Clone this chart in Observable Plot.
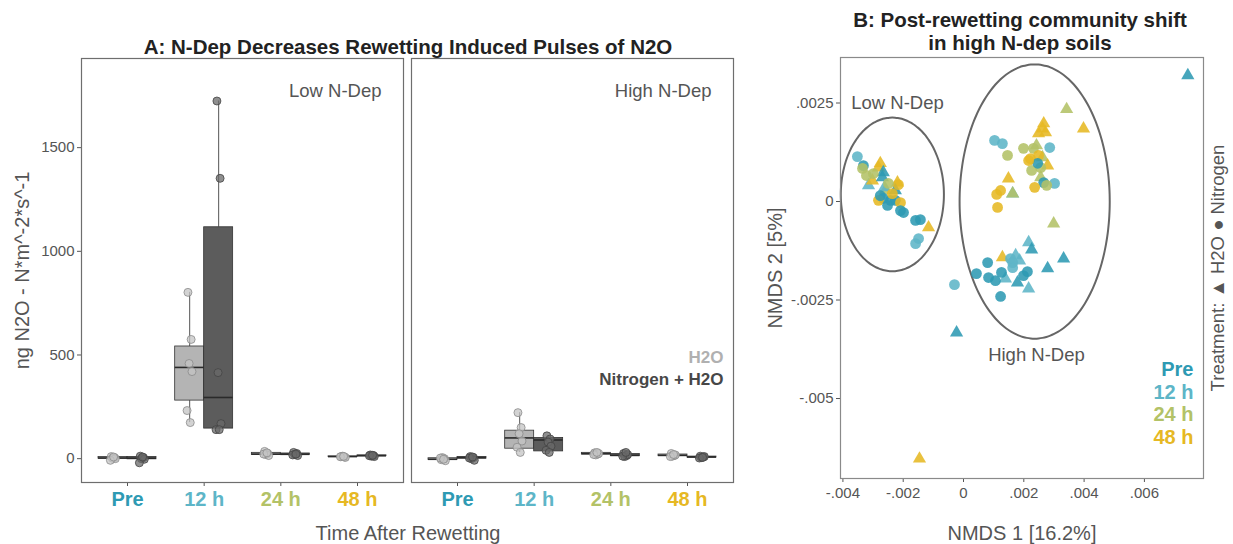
<!DOCTYPE html>
<html><head><meta charset="utf-8">
<script src="https://cdn.jsdelivr.net/npm/d3@7"></script>
<script src="https://cdn.jsdelivr.net/npm/@observablehq/plot@0.6"></script>
<style>
body{margin:0;background:#fff;font-family:"Liberation Sans",Arial,sans-serif;}
#wrap{position:relative;width:1233px;height:544px;overflow:hidden;background:#fff;}
.abs{position:absolute;}
.ttl{font-weight:bold;font-size:20.5px;color:#222;text-align:center;line-height:23px;white-space:nowrap;}
.axl{font-size:20px;color:#555;text-align:center;line-height:24px;white-space:nowrap;}
</style></head><body>
<div id="wrap">
<div id="pa" class="abs" style="left:0;top:0"></div>
<div id="pb" class="abs" style="left:760px;top:0"></div>
<div class="abs ttl" style="left:58px;width:700px;top:35px">A: N-Dep Decreases Rewetting Induced Pulses of N2O</div>
<div class="abs ttl" style="left:820px;width:400px;top:8px">B: Post-rewetting community shift<br>in high N-dep soils</div>
<div class="abs axl" style="left:258px;width:300px;top:521px">Time After Rewetting</div>
<div class="abs axl" style="left:872px;width:300px;top:521px">NMDS 1 [16.2%]</div>
</div>
<script>
const FONT = '"Liberation Sans", Arial, sans-serif';

// ---------- shared categories ----------
const times = ["Pre", "12 h", "24 h", "48 h"];
const timeColors = ["#2e9ab3", "#5db5c7", "#b3c267", "#e6b823"];

// ---------- Panel A data ----------
const ndLevels = ["Low N-Dep", "High N-Dep"];
const treatments = ["H2O", "Nitrogen + H2O"];
// box stats per time: [q1, median, q3, lower whisker, upper whisker]
const lowH2OBox  = [[0, 3, 8, -8, 10], [280, 440, 541, 174, 802], [18, 22, 28, 15, 35], [8, 10, 11, 6, 12]];
const lowNBox    = [[-3, 2, 8, -20, 12], [145, 295, 1116, 140, 1725], [18, 21, 25, 15, 30], [12, 14, 16, 10, 18]];
const highH2OBox = [[-6, -3, 2, -10, 5], [48, 100, 135, 30, 222], [20, 24, 28, 18, 30], [12, 16, 20, 10, 25]];
const highNBox   = [[0, 5, 8, -8, 10], [35, 90, 100, 30, 110], [12, 16, 22, 10, 30], [5, 8, 10, 3, 12]];
// individual measurements per time
const lowH2OVals  = [[10, 5, 2, 0, -8, 8], [802, 575, 459, 420, 232, 174], [35, 25, 20, 15, 22, 28], [10, 8, 12, 6, 9, 11]];
const lowNVals    = [[12, 5, 0, -3, -20, 8], [1725, 1352, 415, 169, 140, 140], [30, 25, 20, 15, 18, 22], [18, 15, 12, 10, 14, 16]];
const highH2OVals = [[-5, 0, 5, -10, 3, -3], [222, 150, 120, 85, 55, 30], [28, 22, 18, 25, 20, 30], [25, 15, 12, 18, 10, 20]];
const highNVals   = [[10, 5, 0, -8, 3, 8], [110, 95, 80, 60, 40, 30], [25, 15, 10, 20, 12, 30], [12, 8, 5, 10, 3, 6]];
const jitter = [-0.06, 0.05, -0.02, 0.08, -0.09, 0.02];
const yTicksA = [0, 500, 1000, 1500];

// ---------- Panel B data ----------
const shapeLevels = ["H2O", "Nitrogen"];
// Low N-Dep cluster
const lowX = [-0.00352, -0.00332, -0.00335, -0.00276, -0.00282, -0.00266, -0.00315, -0.00302, -0.00269, -0.00322, -0.00219, -0.00216, -0.00259, -0.00226, -0.00266, -0.00242, -0.00226, -0.00282, -0.00209, -0.00209, -0.00199, -0.00159, -0.00143, -0.00116, -0.00149, -0.00159, -0.00299, -0.00249, -0.00262, -0.00276, -0.00236, -0.00252];
const lowY = [0.00114, 0.00091, 0.00084, 0.00097, 0.00086, 0.00074, 0.00041, 0.00053, 0.00061, 0.00066, 0.00048, 0.00043, 0.00028, 0.00028, 0.00008, 0.00003, 0.00003, 0.00003, -0.00003, -0.00023, -0.00028, -0.00048, -0.00046, -0.00066, -0.00094, -0.00107, 0.00071, 0.00046, 0.00036, 0.00015, 0.00020, -0.00010];
const lowTime = ["12 h", "Pre", "24 h", "48 h", "48 h", "Pre", "12 h", "48 h", "Pre", "24 h", "48 h", "48 h", "24 h", "Pre", "Pre", "Pre", "Pre", "48 h", "48 h", "Pre", "Pre", "Pre", "Pre", "48 h", "12 h", "12 h", "24 h", "24 h", "12 h", "Pre", "48 h", "Pre"];
const lowShape = ["Nitrogen", "Nitrogen", "Nitrogen", "H2O", "H2O", "H2O", "H2O", "H2O", "H2O", "Nitrogen", "H2O", "Nitrogen", "H2O", "H2O", "Nitrogen", "Nitrogen", "Nitrogen", "Nitrogen", "Nitrogen", "Nitrogen", "Nitrogen", "Nitrogen", "Nitrogen", "H2O", "Nitrogen", "Nitrogen", "Nitrogen", "Nitrogen", "H2O", "Nitrogen", "Nitrogen", "Nitrogen"];
// High N-Dep cluster (upper group, lower group) and outliers
const highX = [0.00342, 0.00266, 0.00262, 0.00272, 0.00249, 0.00398, 0.00103, 0.00129, 0.00199, 0.00232, 0.00286, 0.00146, 0.00242, 0.00222, 0.00249, 0.00262, 0.00279, 0.00226, 0.00256, 0.00246, 0.00149, 0.00256, 0.00266, 0.00302, 0.00276, 0.00236, 0.00123, 0.00110, 0.00163, 0.00163, 0.00113, 0.00299, 0.00216,
  0.00216, 0.00226, 0.00129, 0.00156, 0.00173, 0.00163, 0.00332, 0.00080, 0.00043, 0.00083, 0.00106, 0.00126, 0.00139, 0.00179, 0.00199, 0.00212, 0.00279, 0.00216, 0.00123, -0.00030, -0.00023, 0.00163, 0.00186,
  0.00744, -0.00146];
const highY = [0.00234, 0.00198, 0.00185, 0.00175, 0.00173, 0.00185, 0.00155, 0.00147, 0.00135, 0.00135, 0.00137, 0.00117, 0.00142, 0.00109, 0.00117, 0.00112, 0.00091, 0.00079, 0.00086, 0.00097, 0.00058, 0.00061, 0.00048, 0.00046, 0.00041, 0.00036, 0.00028, 0.00018, 0.00020, 0.00020, -0.00015, -0.00056, 0.00104,
  -0.00104, -0.00122, -0.00142, -0.00145, -0.00137, -0.00168, -0.00145, -0.00155, -0.00183, -0.00193, -0.00201, -0.00180, -0.00196, -0.00206, -0.00188, -0.00178, -0.00170, -0.00221, -0.00241, -0.00211, -0.00333, -0.00155, -0.00150,
  0.00320, -0.00653];
const highTime = ["24 h", "48 h", "48 h", "48 h", "48 h", "48 h", "12 h", "12 h", "24 h", "24 h", "12 h", "24 h", "24 h", "48 h", "48 h", "24 h", "48 h", "24 h", "24 h", "Pre", "48 h", "24 h", "Pre", "12 h", "24 h", "48 h", "48 h", "48 h", "12 h", "24 h", "48 h", "24 h", "48 h",
  "12 h", "Pre", "48 h", "12 h", "12 h", "12 h", "Pre", "Pre", "Pre", "Pre", "Pre", "Pre", "12 h", "Pre", "Pre", "Pre", "Pre", "12 h", "Pre", "12 h", "Pre", "12 h", "12 h",
  "Pre", "48 h"];
const highShape = ["H2O", "H2O", "H2O", "H2O", "H2O", "H2O", "Nitrogen", "Nitrogen", "Nitrogen", "Nitrogen", "Nitrogen", "Nitrogen", "H2O", "Nitrogen", "Nitrogen", "H2O", "H2O", "Nitrogen", "Nitrogen", "Nitrogen", "H2O", "H2O", "Nitrogen", "Nitrogen", "Nitrogen", "Nitrogen", "Nitrogen", "Nitrogen", "H2O", "H2O", "Nitrogen", "H2O", "Nitrogen",
  "H2O", "H2O", "H2O", "Nitrogen", "H2O", "Nitrogen", "H2O", "Nitrogen", "Nitrogen", "Nitrogen", "Nitrogen", "Nitrogen", "H2O", "H2O", "Nitrogen", "Nitrogen", "H2O", "H2O", "Nitrogen", "Nitrogen", "H2O", "Nitrogen", "H2O",
  "H2O", "H2O"];
// ellipses: [center x, center y, radius x, radius y]
const ellipseNames = ["Low N-Dep", "High N-Dep"];
const ellipseParams = [[-0.00236, 0.00018, 0.00171, 0.00195], [0.00236, 0.0, 0.00249, 0.00348]];
const ellipseLabelX = [-0.00219, 0.00242];
const ellipseLabelY = [0.00251, -0.00391];
const xTicksB = [-0.004, -0.002, 0, 0.002, 0.004, 0.006];
const yTicksB = [0.0025, 0, -0.0025, -0.005];

// ---------- build Panel A tables ----------
const boxSets = [[lowH2OBox, lowNBox], [highH2OBox, highNBox]];
const valSets = [[lowH2OVals, lowNVals], [highH2OVals, highNVals]];
const half = 0.378; // box width in x units (dodge)
const boxRows = [], ptRows = [];
ndLevels.forEach((nd, k) => treatments.forEach((tr, j) => times.forEach((t, i) => {
  const [q1, med, q3, lo, hi] = boxSets[k][j][i];
  const xl = j === 0 ? i - half : i;
  const xr = xl + half;
  const xc = (xl + xr) / 2;
  boxRows.push({nd, tr, t, q1, med, q3, lo, hi, xl, xr, xc});
  valSets[k][j][i].forEach((v, n) => ptRows.push({nd, tr, t, v, x: xc + jitter[n] * half}));
})));

const boxFills = ["#b4b4b4", "#5c5c5c"];
const ptFills = ["#c4c4c4", "#6a6a6a"];
const ptStrokes = ["#8a8a8a", "#444444"];
const legendFills = ["#b0b0b0", "#474747"];

const plotA = Plot.plot({
  width: 760, height: 544,
  marginLeft: 81, marginRight: 26, marginTop: 58, marginBottom: 62,
  style: {fontFamily: FONT, fontSize: "15px", color: "#555", background: "transparent"},
  fx: {domain: ndLevels, axis: null, paddingInner: 0.024, paddingOuter: 0},
  x: {domain: [-0.6, 3.6]},
  y: {domain: [-115, 1930], ticks: yTicksA, tickFormat: d => String(d), tickSize: 4, tickPadding: 3, label: null},
  color: {domain: times, range: timeColors},
  marks: [
    Plot.axisX({ticks: [0, 1, 2, 3], tickSize: 4, tickFormat: () => "", label: null, stroke: "#555"}),
    ...treatments.map((tr, j) => Plot.ruleX(boxRows.filter(d => d.tr === tr), {fx: "nd", x: "xc", y1: "q3", y2: "hi", stroke: "#555", strokeWidth: 1})),
    ...treatments.map((tr, j) => Plot.ruleX(boxRows.filter(d => d.tr === tr), {fx: "nd", x: "xc", y1: "lo", y2: "q1", stroke: "#555", strokeWidth: 1})),
    ...treatments.map((tr, j) => Plot.rect(boxRows.filter(d => d.tr === tr), {fx: "nd", x1: "xl", x2: "xr", y1: "q1", y2: "q3", fill: boxFills[j], stroke: "#333", strokeWidth: 0.8})),
    Plot.ruleY(boxRows, {fx: "nd", x1: "xl", x2: "xr", y: "med", stroke: "#2a2a2a", strokeWidth: 1.6}),
    ...treatments.map((tr, j) => Plot.dot(ptRows.filter(d => d.tr === tr), {fx: "nd", x: "x", y: "v", r: 4, fill: ptFills[j], fillOpacity: 0.75, stroke: ptStrokes[j], strokeWidth: 0.8})),
    Plot.frame({stroke: "#6e6e6e", strokeWidth: 1.2}),
    Plot.text(ndLevels, {fx: d => d, text: d => d, frameAnchor: "top-right", textAnchor: "end", lineAnchor: "middle", dx: -22, dy: 33, fontSize: 18.5, fill: "#555"}),
    Plot.text(times, {x: (d, i) => i, text: d => d, fill: d => d, frameAnchor: "bottom", lineAnchor: "middle", dy: 17, fontSize: 20, fontWeight: "bold"}),
    ...treatments.map((tr, j) => Plot.text([tr], {fx: [ndLevels[1]], text: d => d, frameAnchor: "top-right", textAnchor: "end", lineAnchor: "middle", dx: -10, dy: 299 + 22 * j, fontSize: 17, fontWeight: "bold", fill: legendFills[j]})),
    Plot.text(["ng N2O - N*m^-2*s^-1"], {fx: [ndLevels[0]], text: d => d, frameAnchor: "left", textAnchor: "middle", lineAnchor: "middle", dx: -59, rotate: -90, fontSize: 20, fill: "#555"})
  ]
});
document.getElementById("pa").appendChild(plotA);

// ---------- build Panel B tables ----------
const pts = [];
lowX.forEach((x, i) => pts.push({x, y: lowY[i], t: lowTime[i], s: lowShape[i]}));
highX.forEach((x, i) => pts.push({x, y: highY[i], t: highTime[i], s: highShape[i]}));
const ellRows = [];
ellipseParams.forEach(([cx, cy, rx, ry], k) => {
  for (let a = 0; a <= 360; a += 3) {
    const r = a * Math.PI / 180;
    ellRows.push({g: ellipseNames[k], x: cx + rx * Math.cos(r), y: cy + ry * Math.sin(r)});
  }
});
const fmtB = d => String(+d.toFixed(4)).replace("0.", ".");
const symbolSizes = [4.9, 5.4];

const plotB = Plot.plot({
  width: 473, height: 544,
  marginLeft: 80, marginRight: 30, marginTop: 57, marginBottom: 66,
  style: {fontFamily: FONT, fontSize: "15px", color: "#555", background: "transparent"},
  x: {domain: [-0.00408, 0.00796], ticks: xTicksB, tickFormat: fmtB, tickSize: 4, label: null},
  y: {domain: [-0.00703, 0.003655], ticks: yTicksB, tickFormat: fmtB, tickSize: 4, tickPadding: 3, label: null},
  color: {domain: times, range: timeColors},
  symbol: {domain: shapeLevels, range: ["triangle", "circle"]},
  marks: [
    Plot.line(ellRows, {x: "x", y: "y", z: "g", stroke: "#666", strokeWidth: 2, curve: "catmull-rom"}),
    ...shapeLevels.map((s, j) => Plot.dot(pts.filter(d => d.s === s), {x: "x", y: "y", fill: "t", symbol: "s", r: symbolSizes[j], fillOpacity: 0.88, stroke: "none"})),
    Plot.frame({stroke: "#8a8a8a", strokeWidth: 1.2}),
    Plot.text(ellipseNames, {x: ellipseLabelX, y: ellipseLabelY, text: d => d, fontSize: 18.5, fill: "#555"}),
    ...times.map((t, i) => Plot.text([t], {text: d => d, frameAnchor: "top-right", textAnchor: "end", lineAnchor: "middle", dx: -10, dy: 312 + 22.7 * i, fontSize: 20, fontWeight: "bold", fill: timeColors[i]})),
    Plot.text(["Treatment: \u25B2 H2O \u25CF Nitrogen"], {text: d => d, frameAnchor: "right", textAnchor: "middle", lineAnchor: "middle", dx: 15, rotate: -90, fontSize: 18.5, fill: "#555"}),
    Plot.text(["NMDS 2 [5%]"], {text: d => d, frameAnchor: "left", textAnchor: "middle", lineAnchor: "middle", dx: -65, rotate: -90, fontSize: 20, fill: "#555"})
  ]
});
document.getElementById("pb").appendChild(plotB);
</script>
</body></html>
